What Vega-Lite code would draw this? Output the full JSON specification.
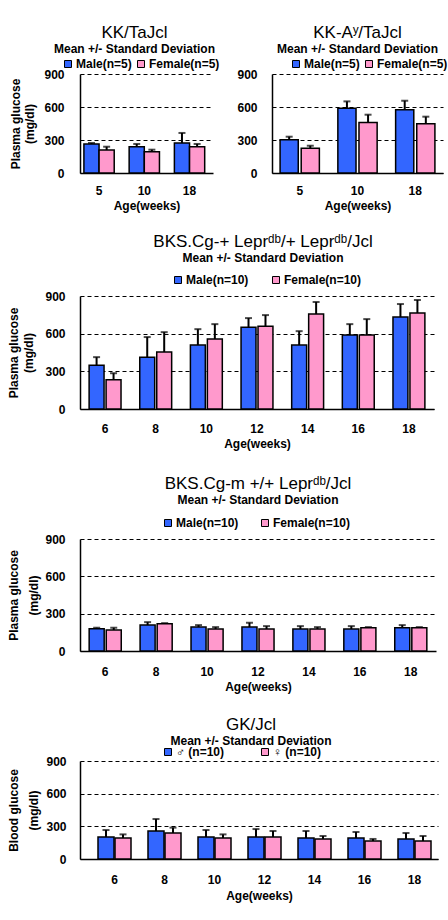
{
  "$schema": "https://vega.github.io/schema/vega-lite/v6.json",
  "padding": {"left": 7, "top": 24, "right": 0, "bottom": 10},
  "background": "white",
  "config": {
    "view": {"stroke": null},
    "font": "Liberation Sans",
    "axis": {"labelFont": "Liberation Sans", "labelFontWeight": "bold", "labelFontSize": 12, "labelColor": "black", "titleFont": "Liberation Sans", "titleFontWeight": "bold", "titleFontSize": 12, "titleColor": "black", "domainColor": "black", "domainWidth": 1.5, "ticks": false},
    "axisX": {"labelAngle": 0, "labelPadding": 12, "titlePadding": 4, "grid": false},
    "axisY": {"grid": true, "gridDash": [4, 3], "gridColor": "black", "gridWidth": 1, "gridOpacity": 1},
    "legend": {"orient": "none", "direction": "horizontal", "title": null, "labelFont": "Liberation Sans", "labelFontWeight": "bold", "labelFontSize": 12, "labelColor": "black", "labelOffset": 2, "symbolType": "square", "symbolSize": 49, "symbolStrokeColor": "black", "symbolStrokeWidth": 1, "symbolOpacity": 1},
    "title": {"font": "Liberation Sans", "fontSize": 17, "fontWeight": "normal", "color": "black", "subtitleFont": "Liberation Sans", "subtitleFontSize": 12, "subtitleFontWeight": "bold", "subtitleColor": "black", "subtitlePadding": 2, "anchor": "middle", "frame": "group"}
  },
  "datasets": {
    "p1": [
      {"age": 5, "sex": "Male(n=5)", "mean": 264, "hi": 273},
      {"age": 10, "sex": "Male(n=5)", "mean": 239, "hi": 264},
      {"age": 18, "sex": "Male(n=5)", "mean": 273, "hi": 364},
      {"age": 5, "sex": "Female(n=5)", "mean": 209, "hi": 239},
      {"age": 10, "sex": "Female(n=5)", "mean": 194, "hi": 212},
      {"age": 18, "sex": "Female(n=5)", "mean": 239, "hi": 264}
    ],
    "p2": [
      {"age": 5, "sex": "Male(n=5)", "mean": 303, "hi": 330},
      {"age": 10, "sex": "Male(n=5)", "mean": 588, "hi": 651},
      {"age": 18, "sex": "Male(n=5)", "mean": 576, "hi": 657},
      {"age": 5, "sex": "Female(n=5)", "mean": 224, "hi": 248},
      {"age": 10, "sex": "Female(n=5)", "mean": 458, "hi": 530},
      {"age": 18, "sex": "Female(n=5)", "mean": 448, "hi": 512}
    ],
    "p3": [
      {"age": 6, "sex": "Male(n=10)", "mean": 349, "hi": 413},
      {"age": 8, "sex": "Male(n=10)", "mean": 413, "hi": 573},
      {"age": 10, "sex": "Male(n=10)", "mean": 509, "hi": 636},
      {"age": 12, "sex": "Male(n=10)", "mean": 652, "hi": 724},
      {"age": 14, "sex": "Male(n=10)", "mean": 509, "hi": 620},
      {"age": 16, "sex": "Male(n=10)", "mean": 589, "hi": 676},
      {"age": 18, "sex": "Male(n=10)", "mean": 732, "hi": 836},
      {"age": 6, "sex": "Female(n=10)", "mean": 232, "hi": 285},
      {"age": 8, "sex": "Female(n=10)", "mean": 453, "hi": 612},
      {"age": 10, "sex": "Female(n=10)", "mean": 557, "hi": 676},
      {"age": 12, "sex": "Female(n=10)", "mean": 660, "hi": 748},
      {"age": 14, "sex": "Female(n=10)", "mean": 756, "hi": 852},
      {"age": 16, "sex": "Female(n=10)", "mean": 589, "hi": 716},
      {"age": 18, "sex": "Female(n=10)", "mean": 764, "hi": 868}
    ],
    "p4": [
      {"age": 6, "sex": "Male(n=10)", "mean": 179, "hi": 187},
      {"age": 8, "sex": "Male(n=10)", "mean": 208, "hi": 232},
      {"age": 10, "sex": "Male(n=10)", "mean": 192, "hi": 208},
      {"age": 12, "sex": "Male(n=10)", "mean": 192, "hi": 227},
      {"age": 14, "sex": "Male(n=10)", "mean": 176, "hi": 200},
      {"age": 16, "sex": "Male(n=10)", "mean": 176, "hi": 200},
      {"age": 18, "sex": "Male(n=10)", "mean": 187, "hi": 208},
      {"age": 6, "sex": "Female(n=10)", "mean": 168, "hi": 187},
      {"age": 8, "sex": "Female(n=10)", "mean": 219, "hi": 224},
      {"age": 10, "sex": "Female(n=10)", "mean": 176, "hi": 192},
      {"age": 12, "sex": "Female(n=10)", "mean": 176, "hi": 200},
      {"age": 14, "sex": "Female(n=10)", "mean": 176, "hi": 192},
      {"age": 16, "sex": "Female(n=10)", "mean": 187, "hi": 192},
      {"age": 18, "sex": "Female(n=10)", "mean": 187, "hi": 192}
    ],
    "p5": [
      {"age": 6, "sex": "♂ (n=10)", "mean": 202, "hi": 266},
      {"age": 8, "sex": "♂ (n=10)", "mean": 257, "hi": 367},
      {"age": 10, "sex": "♂ (n=10)", "mean": 202, "hi": 266},
      {"age": 12, "sex": "♂ (n=10)", "mean": 202, "hi": 275},
      {"age": 14, "sex": "♂ (n=10)", "mean": 193, "hi": 257},
      {"age": 16, "sex": "♂ (n=10)", "mean": 193, "hi": 248},
      {"age": 18, "sex": "♂ (n=10)", "mean": 184, "hi": 239},
      {"age": 6, "sex": "♀ (n=10)", "mean": 193, "hi": 226},
      {"age": 8, "sex": "♀ (n=10)", "mean": 239, "hi": 288},
      {"age": 10, "sex": "♀ (n=10)", "mean": 193, "hi": 226},
      {"age": 12, "sex": "♀ (n=10)", "mean": 202, "hi": 257},
      {"age": 14, "sex": "♀ (n=10)", "mean": 184, "hi": 211},
      {"age": 16, "sex": "♀ (n=10)", "mean": 165, "hi": 184},
      {"age": 18, "sex": "♀ (n=10)", "mean": 165, "hi": 211}
    ]
  },
  "concat": [
    {
      "hconcat": [
        {
          "width": 133, "height": 99,
          "data": {"name": "p1"},
          "title": {"text": "KK/TaJcl", "subtitle": "Mean +/- Standard Deviation", "offset": 2, "dx": -12},
          "encoding": {
            "x": {"field": "age", "type": "ordinal", "title": ["Age(weeks)", ""], "scale": {"paddingInner": 0.33, "paddingOuter": 0.135, "align": 0.32}, "axis": {"titleLineHeight": 8}},
            "xOffset": {"field": "sex", "type": "nominal", "scale": {"domain": ["Male(n=5)", "Female(n=5)"], "paddingInner": 0}},
            "y": {"field": "mean", "type": "quantitative", "scale": {"domain": [0, 900]}, "axis": {"values": [0, 300, 600, 900], "title": ["Plasma glucose", "(mg/dl)"], "titleLineHeight": 14, "labelPadding": 16, "titlePadding": 7}}
          },
          "layer": [
            {"mark": {"type": "rule", "color": "black", "strokeWidth": 2}, "encoding": {"y2": {"field": "hi"}}},
            {"mark": {"type": "tick", "color": "black", "thickness": 2, "size": 7}, "encoding": {"y": {"field": "hi", "type": "quantitative"}}},
            {"mark": {"type": "bar", "stroke": "black", "strokeWidth": 1.5, "opacity": 1},
             "encoding": {"color": {"field": "sex", "type": "nominal", "scale": {"domain": ["Male(n=5)", "Female(n=5)"], "range": ["#3366FF", "#FF99CC"]}, "legend": {"legendX": -18, "legendY": -16, "columnPadding": 3}}}}
          ]
        },
        {
          "width": 171, "height": 99,
          "data": {"name": "p2"},
          "title": {"text": "KK-Aʸ/TaJcl", "subtitle": "Mean +/- Standard Deviation", "offset": 2},
          "encoding": {
            "x": {"field": "age", "type": "ordinal", "title": ["Age(weeks)", ""], "scale": {"paddingInner": 0.32, "paddingOuter": 0.14}, "axis": {"titleLineHeight": 8}},
            "xOffset": {"field": "sex", "type": "nominal", "scale": {"domain": ["Male(n=5)", "Female(n=5)"], "paddingInner": 0.14}},
            "y": {"field": "mean", "type": "quantitative", "scale": {"domain": [0, 900]}, "axis": {"values": [0, 300, 600, 900], "title": null, "labelPadding": 15}}
          },
          "layer": [
            {"mark": {"type": "rule", "color": "black", "strokeWidth": 2}, "encoding": {"y2": {"field": "hi"}}},
            {"mark": {"type": "tick", "color": "black", "thickness": 2, "size": 7}, "encoding": {"y": {"field": "hi", "type": "quantitative"}}},
            {"mark": {"type": "bar", "stroke": "black", "strokeWidth": 1.5, "opacity": 1},
             "encoding": {"color": {"field": "sex", "type": "nominal", "scale": {"domain": ["Male(n=5)", "Female(n=5)"], "range": ["#3366FF", "#FF99CC"]}, "legend": {"legendX": 18, "legendY": -16, "columnPadding": 3}}}}
          ]
        }
      ],
      "spacing": 16,
      "resolve": {"scale": {"x": "independent", "y": "independent", "color": "independent", "xOffset": "independent"}, "legend": {"color": "independent"}}
    },
    {
      "width": 354, "height": 113,
      "data": {"name": "p3"},
      "title": {"text": "BKS.Cg-+ Leprᵈᵇ/+ Leprᵈᵇ/Jcl", "subtitle": "Mean +/- Standard Deviation", "offset": 9, "dx": 6},
      "encoding": {
        "x": {"field": "age", "type": "ordinal", "title": ["Age(weeks)", ""], "scale": {"paddingInner": 0.37, "paddingOuter": 0.18}, "axis": {"titleLineHeight": 12, "labelPadding": 14}},
        "xOffset": {"field": "sex", "type": "nominal", "scale": {"domain": ["Male(n=10)", "Female(n=10)"], "paddingInner": 0.12}},
        "y": {"field": "mean", "type": "quantitative", "scale": {"domain": [0, 900]}, "axis": {"values": [0, 300, 600, 900], "title": ["Plasma glucose", "(mg/dl)"], "titleLineHeight": 15, "labelPadding": 15, "titlePadding": 9}}
      },
      "layer": [
        {"mark": {"type": "rule", "color": "black", "strokeWidth": 2}, "encoding": {"y2": {"field": "hi"}}},
        {"mark": {"type": "tick", "color": "black", "thickness": 2, "size": 7}, "encoding": {"y": {"field": "hi", "type": "quantitative"}}},
        {"mark": {"type": "bar", "stroke": "black", "strokeWidth": 1.5, "opacity": 1},
         "encoding": {"color": {"field": "sex", "type": "nominal", "scale": {"domain": ["Male(n=10)", "Female(n=10)"], "range": ["#3366FF", "#FF99CC"]}, "legend": {"legendX": 92, "legendY": -22, "columnPadding": 21}}}}
      ]
    },
    {
      "width": 356, "height": 112,
      "data": {"name": "p4"},
      "title": {"text": "BKS.Cg-m +/+ Leprᵈᵇ/Jcl", "subtitle": "Mean +/- Standard Deviation", "offset": 10},
      "encoding": {
        "x": {"field": "age", "type": "ordinal", "title": ["Age(weeks)", ""], "scale": {"paddingInner": 0.37, "paddingOuter": 0.18}, "axis": {"titleLineHeight": 10, "labelPadding": 15}},
        "xOffset": {"field": "sex", "type": "nominal", "scale": {"domain": ["Male(n=10)", "Female(n=10)"], "paddingInner": 0.12}},
        "y": {"field": "mean", "type": "quantitative", "scale": {"domain": [0, 900]}, "axis": {"values": [0, 300, 600, 900], "title": ["Plasma glucose", "(mg/dl)"], "titleLineHeight": 20, "labelPadding": 15, "titlePadding": 4}}
      },
      "layer": [
        {"mark": {"type": "rule", "color": "black", "strokeWidth": 2}, "encoding": {"y2": {"field": "hi"}}},
        {"mark": {"type": "tick", "color": "black", "thickness": 2, "size": 7}, "encoding": {"y": {"field": "hi", "type": "quantitative"}}},
        {"mark": {"type": "bar", "stroke": "black", "strokeWidth": 1.5, "opacity": 1},
         "encoding": {"color": {"field": "sex", "type": "nominal", "scale": {"domain": ["Male(n=10)", "Female(n=10)"], "range": ["#3366FF", "#FF99CC"]}, "legend": {"legendX": 82, "legendY": -22, "columnPadding": 20}}}}
      ]
    },
    {
      "width": 358, "height": 98,
      "data": {"name": "p5"},
      "title": {"text": "GK/Jcl", "subtitle": "Mean +/- Standard Deviation", "offset": -2, "dx": -8},
      "encoding": {
        "x": {"field": "age", "type": "ordinal", "title": "Age(weeks)", "scale": {"paddingInner": 0.34, "paddingOuter": 0.25, "align": 0.72}, "axis": {"labelPadding": 15, "titlePadding": 5}},
        "xOffset": {"field": "sex", "type": "nominal", "scale": {"domain": ["♂ (n=10)", "♀ (n=10)"], "paddingInner": 0.06}},
        "y": {"field": "mean", "type": "quantitative", "scale": {"domain": [0, 900]}, "axis": {"values": [0, 300, 600, 900], "title": ["Blood glucose", "(mg/dl)"], "titleLineHeight": 20, "labelPadding": 14, "titlePadding": 5}}
      },
      "layer": [
        {"mark": {"type": "rule", "color": "black", "strokeWidth": 2}, "encoding": {"y2": {"field": "hi"}}},
        {"mark": {"type": "tick", "color": "black", "thickness": 2, "size": 7}, "encoding": {"y": {"field": "hi", "type": "quantitative"}}},
        {"mark": {"type": "bar", "stroke": "black", "strokeWidth": 1.5, "opacity": 1},
         "encoding": {"color": {"field": "sex", "type": "nominal", "scale": {"domain": ["♂ (n=10)", "♀ (n=10)"], "range": ["#3366FF", "#FF99CC"]}, "legend": {"legendX": 82, "legendY": -15, "columnPadding": 34}}}}
      ]
    }
  ],
  "columns": 1,
  "spacing": 14,
  "resolve": {"scale": {"x": "independent", "y": "independent", "color": "independent", "xOffset": "independent"}, "legend": {"color": "independent"}}
}
